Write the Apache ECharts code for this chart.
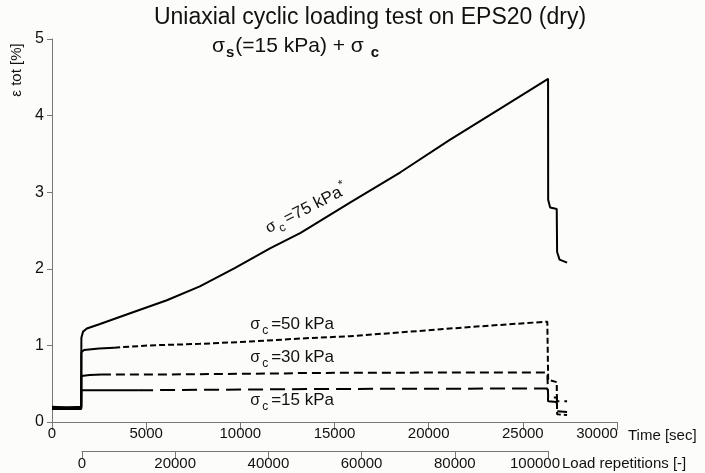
<!DOCTYPE html>
<html>
<head>
<meta charset="UTF-8">
<title>EPS20 cyclic loading</title>
<script src="https://cdn.jsdelivr.net/npm/echarts@6/dist/echarts.min.js"></script>
<style>
  html, body { margin: 0; padding: 0; background: #fcfcfa; }
  #chart { width: 705px; height: 473px; }
</style>
</head>
<body>
<div id="chart"></div>
<script>
// time [sec] vs eps tot [%]
var s75 = [[0,0.20],[800,0.19],[1550,0.20],[1560,1.10],[1650,1.18],[1850,1.22],[2550,1.28],[4150,1.42],[6100,1.59],
  [7850,1.77],[9700,2.01],[11600,2.27],[13200,2.47],[15800,2.86],[18500,3.26],[21100,3.68],[23800,4.09],[26340,4.48],
  [26345,2.90],[26450,2.80],[26800,2.78],[26820,2.22],[26950,2.12],[27350,2.08]];
// solid first part, then dashed
var s50Head = [[0,0.19],[1550,0.19],[1560,0.91],[1700,0.94],[2500,0.96],[3300,0.97]];
var s50Tail = [[3300,0.97],[5200,1.00],[7850,1.02],[10500,1.05],[13200,1.09],[15800,1.12],[18500,1.17],[22200,1.24],
  [26300,1.31],[26345,0.55],[26800,0.52],[26820,0.10],[27350,0.09]];
var s30Head = [[0,0.18],[1550,0.18],[1560,0.60],[2000,0.615],[2650,0.62]];
var s30Tail = [[2650,0.62],[5900,0.62],[6000,0.63],[12800,0.635],[13000,0.64],[20000,0.645],[26300,0.645],
  [26345,0.32],[26800,0.32],[26820,0.27],[27350,0.27]];
var s15Head = [[0,0.17],[1550,0.17],[1560,0.414],[4570,0.414]];
var s15Tail = [[4570,0.414],[7850,0.42],[14000,0.43],[20000,0.435],[26300,0.437],
  [26345,0.27],[26800,0.26],[26820,0.14],[27350,0.13]];

var timeTicks = [0, 30000, 5000];
var loadTicks = [0, 100000, 20000];
var yTicks = [0, 5, 1];

// curve labels: [time, eps, subscript, text]
var lab75 = [13500, 2.78, 'c', '=75 kPa'];
var lab50 = [12750, 1.27, 'c', '=50 kPa'];
var lab30 = [12750, 0.84, 'c', '=30 kPa'];
var lab15 = [12750, 0.28, 'c', '=15 kPa'];

var FONT = "'Liberation Sans', Arial, sans-serif";
var INK = '#111';
var AX = '#777';

var chart = echarts.init(document.getElementById('chart'));

var labRich = {
  g: { fontFamily: FONT, fontSize: 16, color: INK, lineHeight: 24, verticalAlign: 'middle' },
  c: { fontFamily: FONT, fontSize: 12, color: INK, lineHeight: 12, verticalAlign: 'bottom', padding: [0, 3, 0, 2] },
  t: { fontFamily: FONT, fontSize: 17, color: INK, lineHeight: 24, verticalAlign: 'middle' },
  st: { fontFamily: FONT, fontSize: 12, color: INK, lineHeight: 24, verticalAlign: 'top', padding: [0, 0, 0, 1] }
};

function markLabel(l, rot, star) {
  return {
    symbol: 'circle',
    symbolSize: 1,
    silent: true,
    itemStyle: { color: 'rgba(0,0,0,0)' },
    data: [{
      coord: [l[0], l[1]],
      label: {
        show: true,
        position: 'inside',
        rotate: rot,
        formatter: '{g|σ}{c|' + l[2] + '}{t|' + l[3] + '}' + (star ? '{st|*}' : ''),
        rich: labRich
      }
    }]
  };
}

function line(data, dash, mark) {
  var o = {
    type: 'line',
    xAxisIndex: 0,
    yAxisIndex: 0,
    data: data,
    showSymbol: false,
    symbol: 'none',
    animation: false,
    silent: true,
    lineStyle: { color: '#000', width: 2, type: dash }
  };
  if (mark) o.markPoint = mark;
  return o;
}

var option = {
  backgroundColor: '#fcfcfa',
  animation: false,
  textStyle: { fontFamily: FONT },
  grid: [
    { left: 52, right: 88, top: 39, bottom: 51 },
    { left: 82, width: 466, bottom: 22, height: 10 }
  ],
  xAxis: [
    {
      gridIndex: 0, type: 'value', min: timeTicks[0], max: timeTicks[1], interval: timeTicks[2],
      axisLine: { show: true, lineStyle: { color: AX, width: 1 } },
      axisTick: { show: true, inside: false, length: 8, lineStyle: { color: AX } },
      axisLabel: {
        fontFamily: FONT, fontSize: 15, color: INK, margin: 4, showMaxLabel: true,
        formatter: function (v) { return v === timeTicks[1] ? '{r|' + v + '}' : String(v); },
        rich: { r: { fontFamily: FONT, fontSize: 15, color: INK, padding: [0, 40, 0, 0] } }
      },
      splitLine: { show: false }
    },
    {
      gridIndex: 1, type: 'value', min: loadTicks[0], max: loadTicks[1], interval: loadTicks[2],
      axisLine: { show: true, lineStyle: { color: AX, width: 1 } },
      axisTick: { show: true, inside: false, length: 7, lineStyle: { color: AX } },
      axisLabel: {
        fontFamily: FONT, fontSize: 15, color: INK, margin: 5, showMaxLabel: true,
        formatter: function (v) { return v === loadTicks[1] ? '{r|' + v + '}' : String(v); },
        rich: { r: { fontFamily: FONT, fontSize: 15, color: INK, padding: [0, 26, 0, 0] } }
      },
      splitLine: { show: false }
    }
  ],
  yAxis: [
    {
      gridIndex: 0, type: 'value', min: yTicks[0], max: yTicks[1], interval: yTicks[2],
      axisLine: { show: true, lineStyle: { color: AX, width: 1 } },
      axisTick: { show: true, inside: false, length: 5, lineStyle: { color: AX } },
      axisLabel: { fontFamily: FONT, fontSize: 16, color: INK, margin: 8 },
      splitLine: { show: false }
    },
    {
      gridIndex: 1, type: 'value', min: 0, max: 1, show: false
    }
  ],
  graphic: [
    {
      type: 'text', x: 370, y: 18,
      style: { text: 'Uniaxial cyclic loading test on EPS20 (dry)', fontFamily: FONT, fontSize: 23,
        fill: INK, align: 'center', verticalAlign: 'middle' }
    },
    {
      type: 'text', x: 212, y: 46,
      style: {
        text: '{m|σ}{b|s}{m|(=15 kPa) + σ }{b|c}',
        align: 'left', verticalAlign: 'middle',
        rich: {
          m: { fontFamily: FONT, fontSize: 21, fill: INK, lineHeight: 28, verticalAlign: 'middle' },
          b: { fontFamily: FONT, fontSize: 15, fontWeight: 'bold', fill: INK, lineHeight: 15, verticalAlign: 'bottom', padding: [0, 1, 0, 1] }
        }
      }
    },
    {
      type: 'text', x: 17, y: 70, rotation: Math.PI / 2,
      style: { text: 'ε tot [%]', fontFamily: FONT, fontSize: 15, fill: INK, align: 'center', verticalAlign: 'middle' }
    },
    {
      type: 'text', x: 628, y: 436,
      style: { text: 'Time [sec]', fontFamily: FONT, fontSize: 15, fill: INK, align: 'left', verticalAlign: 'middle' }
    },
    {
      type: 'text', x: 562, y: 464,
      style: { text: 'Load repetitions [-]', fontFamily: FONT, fontSize: 15, fill: INK, align: 'left', verticalAlign: 'middle' }
    }
  ],
  series: [
    line(s75, 'solid', markLabel(lab75, 27, true)),
    line(s50Head, 'solid'),
    line(s50Tail, [6, 3], markLabel(lab50, 0)),
    line(s30Head, 'solid'),
    line(s30Tail, [9, 5], markLabel(lab30, 0)),
    line(s15Head, 'solid'),
    line(s15Tail, [15, 7], markLabel(lab15, 0))
  ]
};

chart.setOption(option);
</script>
</body>
</html>
